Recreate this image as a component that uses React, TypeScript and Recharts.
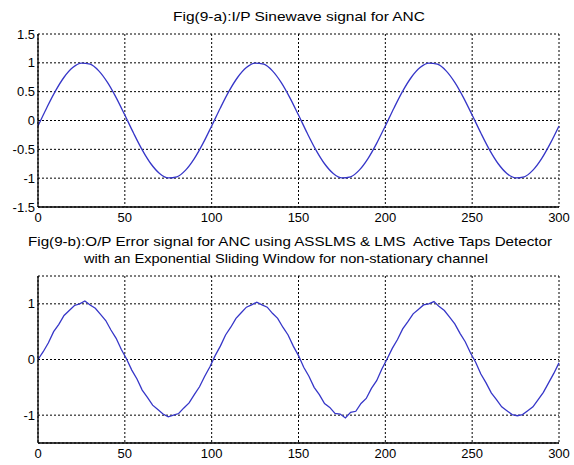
import React from "react";
import { LineChart, Line, XAxis, YAxis, CartesianGrid } from "recharts";

const inputStep = 5;
const inputValues = [
  -0.094, 0.218, 0.509, 0.75, 0.918, 0.996, 0.976, 0.861, 0.661, 0.397,
  0.094, -0.218, -0.509, -0.75, -0.918, -0.996, -0.976, -0.861, -0.661, -0.397,
  -0.094, 0.218, 0.509, 0.75, 0.918, 0.996, 0.976, 0.861, 0.661, 0.397,
  0.094, -0.218, -0.509, -0.75, -0.918, -0.996, -0.976, -0.861, -0.661, -0.397,
  -0.094, 0.218, 0.509, 0.75, 0.918, 0.996, 0.976, 0.861, 0.661, 0.397,
  0.094, -0.218, -0.509, -0.75, -0.918, -0.996, -0.976, -0.861, -0.661, -0.397,
  -0.094,
];

const outputStep = 3;
const outputValues = [
  0.0, 0.14, 0.3, 0.5, 0.63, 0.79, 0.88, 0.97, 1.0, 1.05,
  0.98, 0.92, 0.81, 0.7, 0.53, 0.38, 0.18, 0.01, -0.19, -0.35,
  -0.55, -0.68, -0.82, -0.9, -0.98, -1.03, -1.0, -0.97, -0.87, -0.78,
  -0.63, -0.49, -0.3, -0.13, 0.07, 0.24, 0.44, 0.58, 0.74, 0.84,
  0.94, 0.98, 1.03, 0.98, 0.94, 0.83, 0.74, 0.58, 0.44, 0.24,
  0.07, -0.14, -0.3, -0.5, -0.63, -0.79, -0.86, -0.97, -0.98, -1.05,
  -0.95, -0.93, -0.79, -0.7, -0.52, -0.38, -0.17, 0.01, 0.2, 0.36,
  0.55, 0.68, 0.82, 0.9, 0.98, 1.0, 1.04, 0.95, 0.88, 0.76,
  0.64, 0.47, 0.32, 0.12, -0.05, -0.26, -0.42, -0.6, -0.72, -0.85,
  -0.92, -0.99, -1.01, -0.99, -0.92, -0.85, -0.72, -0.59, -0.42, -0.25,
  -0.06,
];

const xTicks = [0, 50, 100, 150, 200, 250, 300];
const yTicksTop = [-1.5, -1, -0.5, 0, 0.5, 1, 1.5];
const yTicksBottom = [-1, 0, 1];

const titleTop = "Fig(9-a):I/P Sinewave signal for ANC";
const titleBottom1 = "Fig(9-b):O/P Error signal for ANC using ASSLMS & LMS  Active Taps Detector";
const titleBottom2 = "with an Exponential Sliding Window for non-stationary channel";

const inputData = inputValues.map((v, i) => ({ x: i * inputStep, y: v }));
const outputData = outputValues.map((v, i) => ({ x: i * outputStep, y: v }));

const FONT = "'Liberation Sans', Arial, sans-serif";
const LINE = "#3636c8";

const emptyTick = () => <g />;

function Panel({
  data,
  yTicks,
  top,
  bottom,
  curve,
}: {
  data: { x: number; y: number }[];
  yTicks: number[];
  top: number;
  bottom: number;
  curve: "monotone" | "linear";
}) {
  return (
    <LineChart
      width={574}
      height={465}
      data={data}
      margin={{ top, right: 15, bottom, left: 0 }}
      style={{ position: "absolute", left: 0, top: 0 }}
    >
      <CartesianGrid stroke="#000" strokeDasharray="2 2" strokeWidth={1} />
      <XAxis
        xAxisId="bin"
        orientation="bottom"
        dataKey="x"
        type="number"
        domain={[0, 300]}
        ticks={xTicks}
        height={0}
        mirror
        tickSize={4}
        tick={emptyTick}
        tickLine={{ stroke: "#000" }}
        axisLine={false}
      />
      <XAxis
        dataKey="x"
        type="number"
        domain={[0, 300]}
        ticks={xTicks}
        height={22}
        tickSize={0}
        tickMargin={6}
        tickLine={false}
        axisLine={{ stroke: "#000", strokeWidth: 1.3 }}
        tick={{ fill: "#000", fontSize: 13, fontFamily: FONT }}
        interval={0}
      />
      <XAxis
        xAxisId="top"
        orientation="top"
        dataKey="x"
        type="number"
        domain={[0, 300]}
        ticks={xTicks}
        height={0}
        mirror
        tickSize={4}
        tick={emptyTick}
        tickLine={{ stroke: "#000" }}
        axisLine={{ stroke: "#000", strokeWidth: 1.3 }}
      />
      <YAxis
        yAxisId="lin"
        orientation="left"
        type="number"
        domain={[-1.5, 1.5]}
        ticks={yTicks}
        width={0}
        mirror
        tickSize={4}
        tick={emptyTick}
        tickLine={{ stroke: "#000" }}
        axisLine={false}
      />
      <YAxis
        type="number"
        domain={[-1.5, 1.5]}
        ticks={yTicks}
        width={38}
        tickSize={0}
        tickMargin={3}
        tickLine={false}
        axisLine={{ stroke: "#000", strokeWidth: 1.3 }}
        tick={{ fill: "#000", fontSize: 13, fontFamily: FONT }}
        interval={0}
      />
      <YAxis
        yAxisId="right"
        orientation="right"
        type="number"
        domain={[-1.5, 1.5]}
        ticks={yTicks}
        width={0}
        mirror
        tickSize={4}
        tick={emptyTick}
        tickLine={{ stroke: "#000" }}
        axisLine={{ stroke: "#000", strokeWidth: 1.3 }}
      />
      <Line
        type={curve}
        dataKey="y"
        stroke={LINE}
        strokeWidth={1.3}
        dot={false}
        isAnimationActive={false}
      />
    </LineChart>
  );
}

function Title({ text, cx, y, w }: { text: string; cx: number; y: number; w: number }) {
  return (
    <text
      x={cx}
      y={y}
      textAnchor="middle"
      fontFamily={FONT}
      fontSize={13}
      fill="#000"
      textLength={w}
      lengthAdjust="spacingAndGlyphs"
      style={{ whiteSpace: "pre" }}
    >
      {text}
    </text>
  );
}

export default function App() {
  return (
    <div
      style={{
        position: "fixed",
        left: 0,
        top: 0,
        width: 574,
        height: 465,
        background: "#fff",
        overflow: "hidden",
      }}
    >
      <Panel data={inputData} yTicks={yTicksTop} top={34} bottom={465 - 207 - 22} curve="monotone" />
      <Panel data={outputData} yTicks={yTicksBottom} top={276} bottom={0} curve="linear" />
      <svg
        width={574}
        height={465}
        style={{ position: "absolute", left: 0, top: 0, pointerEvents: "none" }}
      >
        <Title text={titleTop} cx={299} y={21} w={252} />
        <Title text={titleBottom1} cx={290} y={246} w={524} />
        <Title text={titleBottom2} cx={286} y={263} w={404} />
      </svg>
    </div>
  );
}
